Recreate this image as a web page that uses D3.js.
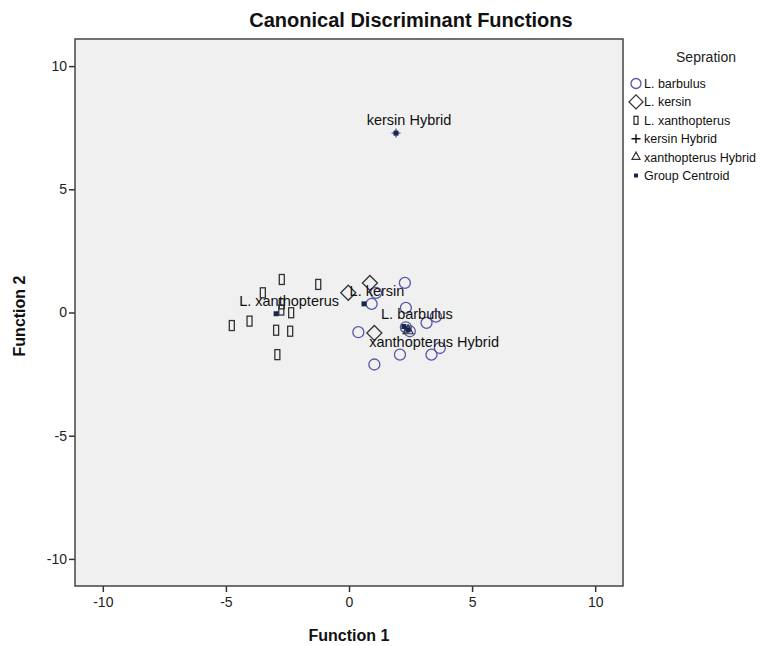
<!DOCTYPE html>
<html>
<head>
<meta charset="utf-8">
<script src="https://cdn.jsdelivr.net/npm/d3@7/dist/d3.min.js"></script>
<style>
  body { margin: 0; background: #fff; }
  svg text { font-family: Arial, "Liberation Sans", sans-serif; }
</style>
</head>
<body>
<div id="chart"></div>
<script>
"use strict";
// scores on the two discriminant functions
const barbulus = [
  [2.27, 1.2], [0.92, 0.35], [1.1, 0.8], [2.31, 0.19], [0.38, -0.8],
  [3.15, -0.42], [3.53, -0.17], [2.47, -0.76], [3.69, -1.44], [3.35, -1.71],
  [2.07, -1.71], [1.03, -2.11], [2.31, -0.6]
]
const kersin = [[-0.03, 0.8], [0.85, 1.2], [1.03, -0.83]]
const xanthopterus = [
  [-2.73, 1.34], [-1.25, 1.14], [-3.5, 0.8], [-2.73, 0.35], [-2.75, 0.1],
  [-2.35, -0.01], [-4.76, -0.53], [-4.04, -0.35], [-2.96, -0.72],
  [-2.39, -0.76], [-2.91, -1.71]
]
const kersinHybrid = [[1.91, 7.28]]
const xanthHybrid = [[2.4, -0.7]]
const centroids = [
  {name: "L. barbulus", f1: 2.23, f2: -0.57},
  {name: "L. kersin", f1: 0.61, f2: 0.35},
  {name: "L. xanthopterus", f1: -2.96, f2: -0.05},
  {name: "kersin Hybrid", f1: 1.91, f2: 7.28},
  {name: "xanthopterus Hybrid", f1: 2.4, f2: -0.7}
]
const ticks = [-10, -5, 0, 5, 10]
const legendNames = ["L. barbulus", "L. kersin", "L. xanthopterus", "kersin Hybrid", "xanthopterus Hybrid", "Group Centroid"]

let m = {width: 783, height: 646, left: 75, top: 39, right: 623, bottom: 586}

const svg = d3.select("#chart").append("svg")
    .attr("width", m.width)
    .attr("height", m.height)

let x = d3.scaleLinear().domain([-11.13, 11.13]).range([m.left, m.right])
let y = d3.scaleLinear().domain([-11.1, 11.1]).range([m.bottom, m.top])

svg.append("rect")
    .attr("x", m.left).attr("y", m.top)
    .attr("width", m.right - m.left).attr("height", m.bottom - m.top)
    .attr("fill", "#f0f0f0")

// axes (plain hyphen for negatives, like the original)
let xAxis = svg.append("g")
    .attr("transform", "translate(0," + m.bottom + ")")
    .call(d3.axisBottom(x).tickValues(ticks).tickSize(6).tickPadding(5).tickFormat(d => String(d)))
let yAxis = svg.append("g")
    .attr("transform", "translate(" + m.left + ",0)")
    .call(d3.axisLeft(y).tickValues(ticks).tickSize(6).tickPadding(2).tickFormat(d => String(d)))
for (let a of [xAxis, yAxis]) {
  a.select(".domain").remove()
  a.selectAll("line").attr("stroke", "#333").attr("stroke-width", 1.5)
  a.selectAll("text").attr("font-size", "14px").attr("fill", "#222")
    .style("font-family", "Arial, 'Liberation Sans', sans-serif")
}

svg.append("rect")
    .attr("x", m.left).attr("y", m.top)
    .attr("width", m.right - m.left).attr("height", m.bottom - m.top)
    .attr("fill", "none").attr("stroke", "#444").attr("stroke-width", 1.5)

const g = svg.append("g")

// marker drawers
function circleMark(sel, cx, cy, r) {
  sel.append("circle").attr("cx", cx).attr("cy", cy).attr("r", r)
    .attr("fill", "none").attr("stroke", "#5757a6").attr("stroke-width", 1.3)
}
function diamondMark(sel, cx, cy, s) {
  sel.append("path")
    .attr("d", `M${cx},${cy - s}L${cx + s},${cy}L${cx},${cy + s}L${cx - s},${cy}Z`)
    .attr("fill", "none").attr("stroke", "#333").attr("stroke-width", 1.3)
}
function rectMark(sel, cx, cy, w, h) {
  sel.append("rect").attr("x", cx - w / 2).attr("y", cy - h / 2)
    .attr("width", w).attr("height", h)
    .attr("fill", "none").attr("stroke", "#333").attr("stroke-width", 1.3)
}
function plusMark(sel, cx, cy, s, col) {
  sel.append("path")
    .attr("d", `M${cx - s},${cy}H${cx + s}M${cx},${cy - s}V${cy + s}`)
    .attr("stroke", col).attr("stroke-width", 1.4)
}
function triMark(sel, cx, cy, s) {
  sel.append("path")
    .attr("d", `M${cx},${cy - s}L${cx + s},${cy + s * 0.8}L${cx - s},${cy + s * 0.8}Z`)
    .attr("fill", "none").attr("stroke", "#333").attr("stroke-width", 1.2)
}
function squareMark(sel, cx, cy, s) {
  sel.append("rect").attr("x", cx - s / 2).attr("y", cy - s / 2)
    .attr("width", s).attr("height", s).attr("fill", "#14284a")
}

xanthopterus.forEach(d => rectMark(g, x(d[0]), y(d[1]), 5, 10))
kersin.forEach(d => diamondMark(g, x(d[0]), y(d[1]), 7.5))
barbulus.forEach(d => circleMark(g, x(d[0]), y(d[1]), 5.5))
xanthHybrid.forEach(d => triMark(g, x(d[0]), y(d[1]), 5))
kersinHybrid.forEach(d => plusMark(g, x(d[0]), y(d[1]), 4.5, "#6b4f9a"))
centroids.forEach(d => squareMark(g, x(d.f1), y(d.f2), 5))

// centroid labels
g.selectAll(".clabel")
  .data(centroids)
  .enter()
  .append("text")
    .attr("class", "clabel")
    .attr("x", d => x(d.f1) + (d.name == "xanthopterus Hybrid" ? 26 : 13))
    .attr("y", d => y(d.f2) + (d.name == "xanthopterus Hybrid" ? 17 : -8))
    .attr("text-anchor", "middle")
    .attr("font-size", "14.5px")
    .attr("fill", "#111")
    .text(d => d.name)

// titles
svg.append("text")
  .attr("x", 411).attr("y", 27)
  .attr("text-anchor", "middle")
  .attr("font-size", "20px").attr("font-weight", "bold").attr("fill", "#111")
  .text("Canonical Discriminant Functions")
svg.append("text")
  .attr("x", 349).attr("y", 641)
  .attr("text-anchor", "middle")
  .attr("font-size", "16px").attr("font-weight", "bold").attr("fill", "#111")
  .text("Function 1")
svg.append("text")
  .attr("transform", "translate(25,316)rotate(-90)")
  .attr("text-anchor", "middle")
  .attr("font-size", "16px").attr("font-weight", "bold").attr("fill", "#111")
  .text("Function 2")

// legend
let lg = svg.append("g")
lg.append("text")
  .attr("x", 706).attr("y", 62)
  .attr("text-anchor", "middle")
  .attr("font-size", "14px").attr("fill", "#222")
  .text("Sepration")
legendNames.forEach(function(name, i) {
  let ly = 83.5 + i * 18.4
  let lx = 636
  if (i == 0) circleMark(lg, lx, ly, 5)
  if (i == 1) diamondMark(lg, lx, ly, 7)
  if (i == 2) rectMark(lg, lx, ly, 4, 8)
  if (i == 3) plusMark(lg, lx, ly, 4.5, "#111")
  if (i == 4) triMark(lg, lx, ly - 1, 4)
  if (i == 5) squareMark(lg, lx, ly, 4)
  lg.append("text")
    .attr("x", 644).attr("y", ly + 4.5)
    .attr("font-size", "12.5px").attr("fill", "#111")
    .text(name)
})
</script>
</body>
</html>
